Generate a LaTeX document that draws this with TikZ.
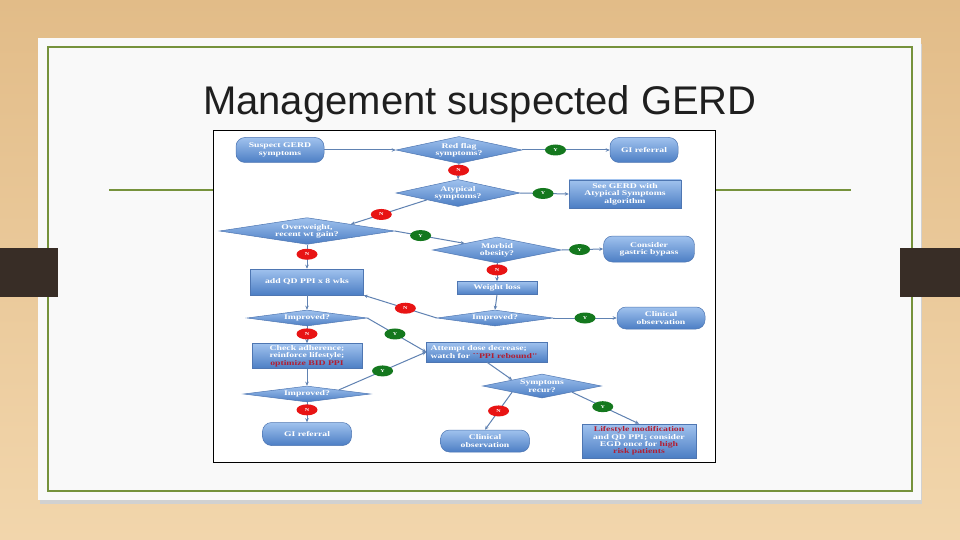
\documentclass[tikz,border=0pt]{standalone}
\usepackage{fontspec}
\setmainfont{Liberation Serif}
\newfontfamily\titlefont{Liberation Sans}
\newfontfamily\chartfont[FakeStretch=1.35]{Liberation Serif}
\definecolor{woodtop}{RGB}{226,188,136}
\definecolor{woodbot}{RGB}{242,214,172}
\definecolor{slidewhite}{RGB}{249,249,249}
\definecolor{slidegreen}{RGB}{118,146,60}
\definecolor{tabbrown}{RGB}{56,45,38}
\definecolor{boxtop}{RGB}{160,194,238}
\definecolor{boxbot}{RGB}{76,126,196}
\definecolor{boxline}{RGB}{78,118,178}
\definecolor{linkblue}{RGB}{96,130,178}
\definecolor{nored}{RGB}{232,20,20}
\definecolor{yesgreen}{RGB}{20,120,30}
\definecolor{textred}{RGB}{178,30,50}
\usetikzlibrary{arrows.meta,shapes.geometric}

\begin{document}
\begin{tikzpicture}[x=1pt,y=-1pt,
      box/.style={rectangle,draw=boxline,line width=0.5pt,
                  top color=boxtop,bottom color=boxbot,text=white,
                  font=\chartfont\bfseries\fontsize{7.2}{7.4}\selectfont,
                  align=center,inner sep=0pt},
      pill/.style={box,rounded corners=9pt},
      decide/.style={box,diamond,aspect=5},
      link/.style={draw=linkblue,line width=1pt,-{Stealth[length=4pt,width=3.5pt]}},
      yes/.style={ellipse,fill=yesgreen,text=white,inner sep=0pt,
                  minimum width=21pt,minimum height=11pt,
                  font=\chartfont\bfseries\fontsize{4.5}{5}\selectfont},
      no/.style={yes,fill=nored}]

      % Folie
      \useasboundingbox (0,0) rectangle (960,540);
      \shade[top color=woodtop,bottom color=woodbot] (0,0) rectangle (960,540);
      \fill[black!18] (40,44) rectangle (922,504);
      \fill[slidewhite] (38,38) rectangle (921,500);
      \draw[slidegreen,line width=1.5pt] (48,47) rectangle (912,491);
      \draw[slidegreen,line width=1.5pt] (109,190) -- (851,190);
      \fill[tabbrown] (0,248) rectangle (58,297);
      \fill[tabbrown] (900,248) rectangle (960,297);

      \node[font=\titlefont\fontsize{40}{48}\selectfont,text=black!88,anchor=base]
        (title) at (480,115) {Management suspected GERD};

      \node[draw=black,fill=white,line width=0.6pt,inner sep=0pt,
            minimum width=502,minimum height=332] (chart) at (464,296) {};

      % Knoten
      \node[pill,minimum width=88,minimum height=25] (suspect) at (280,150) {Suspect GERD\\symptoms};
      \node[decide,minimum width=126,minimum height=27] (redflag) at (459,150) {Red flag\\symptoms?};
      \node[pill,minimum width=68,minimum height=25] (gione) at (644,150) {GI referral};
      \node[decide,minimum width=124,minimum height=27] (atypical) at (458,193) {Atypical\\symptoms?};
      \node[box,minimum width=112,minimum height=28] (seegerd) at (625,194) {See GERD with\\Atypical Symptoms\\algorithm};
      \node[decide,minimum width=175,minimum height=26] (overwt) at (307,231) {Overweight,\\recent wt gain?};
      \node[decide,minimum width=129,minimum height=26] (morbid) at (497,250) {Morbid\\obesity?};
      \node[pill,minimum width=91,minimum height=26] (bypass) at (649,249) {Consider\\gastric bypass};
      \node[box,minimum width=113,minimum height=26] (addppi) at (307,282) {add QD PPI x 8 wks};
      \node[box,minimum width=80,minimum height=13] (wtloss) at (497,288) {Weight loss};
      \node[decide,minimum width=120,minimum height=16] (imprA) at (307,318) {Improved?};
      \node[decide,minimum width=116,minimum height=16] (imprB) at (495,318) {Improved?};
      \node[pill,minimum width=88,minimum height=22] (clinA) at (661,318) {Clinical\\observation};
      \node[box,minimum width=110,minimum height=25] (check) at (307,356)
        {Check adherence;\\reinforce lifestyle;\\\textcolor{textred}{optimize BID PPI}};
      \node[box,align=left,text width=113,minimum width=121,minimum height=20] (attempt) at (487,352)
        {Attempt dose decrease;\\watch for \textcolor{textred}{``PPI rebound''}};
      \node[decide,minimum width=127,minimum height=16] (imprC) at (307,394) {Improved?};
      \node[pill,minimum width=89,minimum height=23] (gitwo) at (307,434) {GI referral};
      \node[decide,minimum width=119,minimum height=24] (recur) at (542,386) {Symptoms\\recur?};
      \node[pill,minimum width=89,minimum height=22] (clinB) at (485,441) {Clinical\\observation};
      \node[box,minimum width=114,minimum height=34] (lifestyle) at (639,441)
        {\textcolor{textred}{Lifestyle modification}\\and QD PPI; consider\\EGD once for \textcolor{textred}{high}\\\textcolor{textred}{risk patients}};

      % Verbindungen
      \draw[link] (suspect.east) -- (redflag.west);
      \draw[link] (redflag.east) -- node[yes,pos=0.38] (yA) {Y} (gione.west);
      \draw[link] (redflag.south) -- node[no,pos=0.42] (nA) {N} (atypical.north);
      \draw[link] (atypical.east) -- node[yes,pos=0.47] (yB) {Y} (seegerd.west);
      \draw[link] (atypical.south west) -- node[no,pos=0.6] (nB) {N} (overwt.north east);
      \draw[link] (overwt.east) -- node[yes,pos=0.37] (yC) {Y} (morbid.north west);
      \draw[link] (morbid.east) -- node[yes,pos=0.43] (yD) {Y} (bypass.west);
      \draw[link] (overwt.south) -- node[no,pos=0.4] (nC) {N} (addppi.north);
      \draw[link] (morbid.south) -- node[no,pos=0.37] (nD) {N} (wtloss.north);
      \draw[link] (wtloss.south) -- (imprB.north);
      \draw[link] (imprB.east) -- node[yes,pos=0.5] (yE) {Y} (clinA.west);
      \draw[link] (imprB.west) -- node[no,pos=0.43] (nE) {N} (addppi.south east);
      \draw[link] (addppi.south) -- (imprA.north);
      \draw[link] (imprA.south) -- node[no,pos=0.45] (nF) {N} (check.north);
      \draw[link] (imprA.east) -- node[yes,pos=0.47] (yF) {Y} (attempt.west);
      \draw[link] (check.south) -- (imprC.north);
      \draw[link] (imprC.north east) -- node[yes,pos=0.5] (yG) {Y} (attempt.west);
      \draw[link] (imprC.south) -- node[no,pos=0.38] (nG) {N} (gitwo.north);
      \draw[link] (attempt.south) -- (recur.north west);
      \draw[link] (recur.south west) -- node[no,pos=0.5] (nH) {N} (clinB.north);
      \draw[link] (recur.south east) -- node[yes,pos=0.46] (yH) {Y} (lifestyle.north);
    \end{tikzpicture}
\end{document}
